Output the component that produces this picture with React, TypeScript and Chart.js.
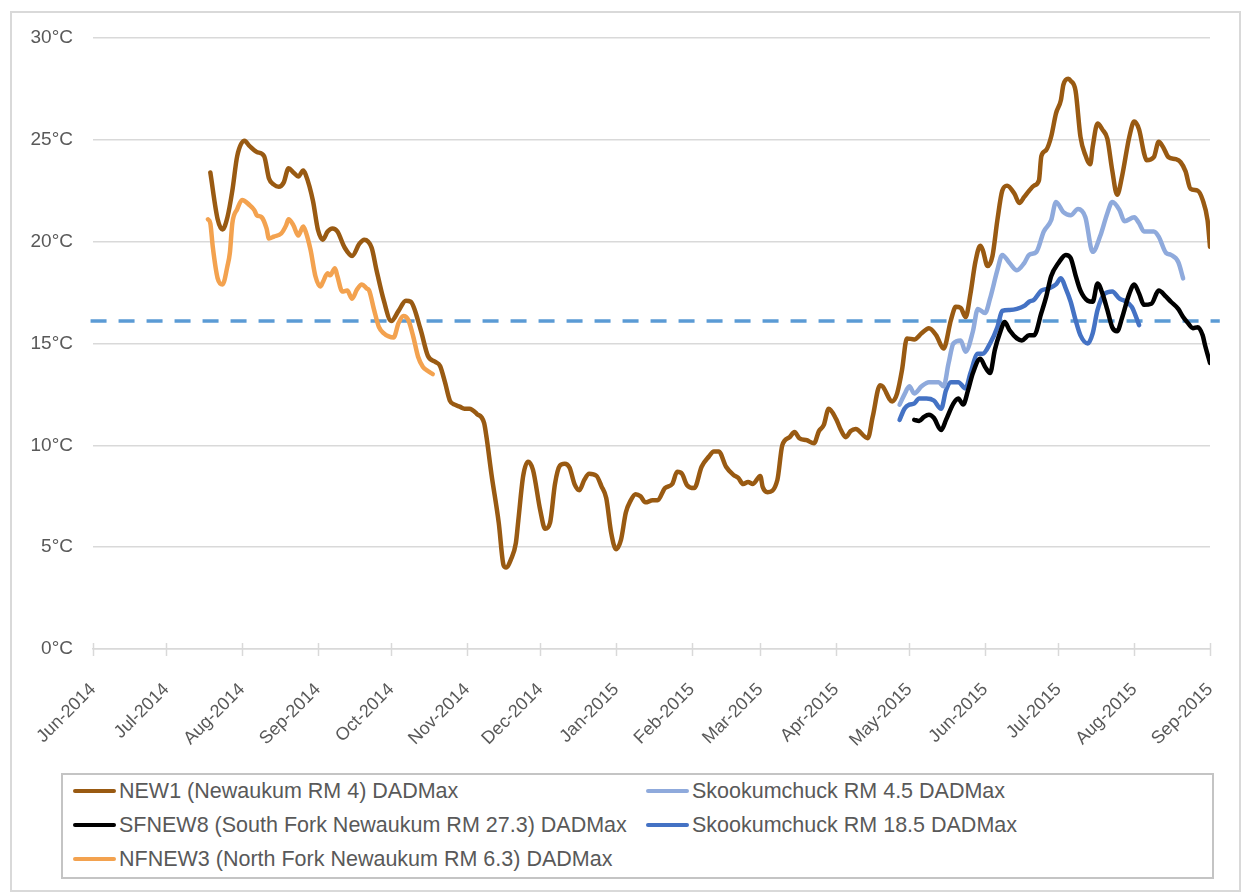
import React, { useEffect, useRef } from 'react';
import { Chart, registerables } from 'chart.js';

Chart.register(...registerables);

// x values are days counted from 1 Jun 2014
const MONTH_NAMES = ['Jan', 'Feb', 'Mar', 'Apr', 'May', 'Jun', 'Jul', 'Aug', 'Sep', 'Oct', 'Nov', 'Dec'];
const FIRST_MONTH = 5; // June
const FIRST_YEAR = 2014;
const MONTH_COUNT = 16; // Jun-2014 .. Sep-2015

const yTickValues = [0, 5, 10, 15, 20, 25, 30];

const new1Days = [48, 51, 53, 55, 57, 59, 62, 64, 67, 70, 72, 74, 76, 78, 80, 82, 84, 86, 87, 90, 92, 94, 96, 98, 100, 103, 106, 109, 111, 114, 116, 119, 122, 125, 128, 130, 134, 137, 140, 142, 144, 146, 148, 150, 152, 154, 157, 160, 161, 163, 166, 168, 169, 171, 173, 174, 176, 178, 180, 183, 185, 187, 189, 191, 193, 195, 197, 199, 201, 203, 206, 208, 210, 212, 214, 216, 218, 220, 222, 224, 226, 229, 231, 234, 237, 239, 241, 243, 246, 249, 252, 254, 256, 259, 262, 264, 266, 268, 270, 273, 274, 276, 280, 282, 285, 287, 289, 292, 295, 297, 299, 301, 304, 306, 308, 310, 312, 317, 319, 322, 323, 327, 329, 331, 333, 336, 339, 342, 345, 348, 351, 353, 355, 357, 359, 361, 363, 364, 366, 368, 370, 372, 374, 377, 379, 381, 383, 385, 387, 388, 390, 392, 394, 396, 397, 399, 400, 402, 404, 406, 408, 409, 411, 413, 415, 417, 419, 421, 424, 426, 428, 430, 431, 434, 436, 438, 440, 443, 445, 447, 449, 452, 454, 456, 457];
const new1Temps = [23.4, 21.1, 20.6, 21.2, 22.5, 24.2, 24.95, 24.7, 24.4, 24.2, 23.1, 22.8, 22.7, 22.9, 23.6, 23.4, 23.2, 23.5, 23.3, 22.0, 20.6, 20.1, 20.5, 20.65, 20.5, 19.7, 19.3, 19.9, 20.1, 19.7, 18.6, 17.1, 16.1, 16.6, 17.1, 17.05, 15.7, 14.4, 14.1, 13.9, 13.1, 12.2, 12.0, 11.9, 11.8, 11.8, 11.55, 11.1, 10.4, 8.6, 6.2, 4.1, 4.0, 4.4, 5.2, 6.3, 8.5, 9.2, 8.8, 6.8, 5.9, 6.2, 8.1, 9.0, 9.1, 8.9, 8.1, 7.8, 8.3, 8.6, 8.5, 8.0, 7.4, 5.7, 4.9, 5.35, 6.7, 7.3, 7.6, 7.5, 7.2, 7.3, 7.3, 7.9, 8.1, 8.7, 8.6, 8.05, 7.9, 8.95, 9.45, 9.7, 9.7, 8.95, 8.55, 8.4, 8.1, 8.2, 8.1, 8.5, 7.95, 7.7, 8.3, 10.0, 10.4, 10.65, 10.35, 10.25, 10.1, 10.7, 11.0, 11.8, 11.3, 10.75, 10.4, 10.7, 10.8, 10.35, 11.4, 12.95, 12.9, 12.15, 12.55, 13.7, 15.25, 15.2, 15.5, 15.75, 15.4, 14.75, 16.15, 16.8, 16.75, 16.3, 17.45, 19.0, 19.8, 19.6, 18.8, 19.3, 21.05, 22.5, 22.75, 22.35, 21.9, 22.2, 22.5, 22.75, 23.0, 24.2, 24.5, 25.15, 26.3, 26.95, 27.7, 28.0, 27.9, 27.4, 25.15, 24.25, 23.8, 24.65, 25.8, 25.5, 25.05, 23.5, 22.3, 23.2, 25.15, 25.9, 25.5, 24.35, 24.0, 24.15, 24.9, 24.6, 24.15, 24.05, 23.9, 23.45, 22.6, 22.5, 22.05, 21.05, 19.75];

const skook45Days = [330, 332, 334, 336, 339, 342, 346, 348, 350, 352, 355, 357, 360, 362, 365, 367, 370, 372, 375, 378, 381, 383, 386, 389, 392, 394, 397, 400, 403, 406, 409, 412, 415, 417, 420, 422, 426, 428, 430, 434, 436, 439, 441, 444, 446];
const skook45Temps = [12.0, 12.5, 12.9, 12.55, 12.9, 13.1, 13.1, 12.9, 14.0, 15.0, 15.15, 14.6, 15.6, 16.7, 16.5, 17.2, 18.6, 19.35, 18.95, 18.6, 18.95, 19.35, 19.5, 20.5, 21.05, 21.95, 21.45, 21.3, 21.6, 21.2, 19.5, 20.25, 21.4, 21.95, 21.55, 21.0, 21.2, 20.9, 20.5, 20.5, 20.25, 19.45, 19.35, 19.0, 18.2];

const sfnew8Days = [336, 338, 340, 342, 344, 347, 349, 352, 354, 356, 358, 360, 363, 365, 367, 369, 371, 373, 375, 378, 380, 383, 385, 388, 390, 392, 395, 398, 400, 402, 404, 407, 409, 411, 413, 415, 417, 419, 421, 424, 426, 428, 430, 433, 436, 439, 441, 444, 446, 448, 450, 452, 454, 455, 457];
const sfnew8Temps = [11.25, 11.2, 11.4, 11.5, 11.35, 10.75, 11.25, 12.05, 12.3, 12.0, 12.7, 13.55, 14.25, 13.85, 13.55, 14.7, 15.5, 16.05, 15.65, 15.25, 15.15, 15.4, 15.4, 16.5, 17.3, 18.3, 18.95, 19.35, 19.2, 18.35, 17.6, 17.1, 17.05, 17.95, 17.45, 16.65, 15.8, 15.6, 16.25, 17.45, 17.9, 17.45, 16.9, 16.95, 17.6, 17.3, 17.05, 16.7, 16.3, 16.0, 15.75, 15.8, 15.4, 14.9, 14.05];

const skook185Days = [330, 332, 334, 336, 338, 341, 344, 347, 349, 351, 354, 357, 359, 362, 364, 367, 370, 372, 375, 378, 381, 383, 385, 388, 391, 394, 396, 398, 400, 402, 404, 407, 409, 411, 414, 417, 420, 422, 425, 428];
const skook185Temps = [11.25, 11.8, 12.0, 12.05, 12.3, 12.3, 12.2, 11.8, 12.7, 13.1, 13.1, 12.8, 13.55, 14.5, 14.5, 15.0, 15.8, 16.6, 16.65, 16.7, 16.85, 17.05, 17.15, 17.6, 17.7, 17.9, 18.2, 17.7, 17.05, 16.15, 15.4, 15.0, 15.5, 16.65, 17.45, 17.55, 17.2, 17.1, 16.8, 15.9];

const nfnew3Days = [47, 48, 49, 51, 53, 55, 56, 57, 59, 61, 64, 66, 67, 69, 71, 72, 74, 77, 79, 80, 82, 84, 86, 87, 89, 91, 93, 94, 96, 97, 99, 100, 102, 104, 106, 108, 110, 112, 113, 115, 117, 119, 121, 123, 125, 127, 129, 131, 133, 135, 137, 139];
const nfnew3Temps = [21.1, 20.9, 19.75, 18.2, 17.9, 18.8, 19.45, 20.9, 21.6, 22.05, 21.8, 21.55, 21.3, 21.2, 20.65, 20.15, 20.25, 20.4, 20.8, 21.1, 20.8, 20.3, 20.75, 20.5, 19.6, 18.3, 17.8, 18.0, 18.45, 18.35, 18.7, 18.3, 17.55, 17.6, 17.2, 17.65, 17.9, 17.7, 17.6, 16.65, 15.8, 15.5, 15.35, 15.3, 16.0, 16.35, 16.15, 15.35, 14.35, 13.85, 13.65, 13.5];

const thresholdDays = [-1, 461];
const thresholdTemps = [16.1, 16.1];

const seriesLabels = [
  'NEW1 (Newaukum RM 4) DADMax',
  'Skookumchuck RM 4.5 DADMax',
  'SFNEW8 (South Fork Newaukum RM 27.3) DADMax',
  'Skookumchuck RM 18.5 DADMax',
  'NFNEW3 (North Fork Newaukum RM 6.3) DADMax',
];
const seriesColors = ['#995A12', '#8FAADC', '#000000', '#4472C4', '#F3A24F'];
const thresholdColor = '#5B9BD5';

const TEXT = '#595959';
const FONT = '"Liberation Sans", Arial, sans-serif';

const msDay = 86400000;
const monthTickDays: number[] = [];
const monthTickLabels: string[] = [];
for (let i = 0; i < MONTH_COUNT; i++) {
  const m = FIRST_MONTH + i;
  monthTickDays.push(Math.round((Date.UTC(FIRST_YEAR, m, 1) - Date.UTC(FIRST_YEAR, FIRST_MONTH, 1)) / msDay));
  monthTickLabels.push(MONTH_NAMES[m % 12] + '-' + (FIRST_YEAR + Math.floor(m / 12)));
}

const toPoints = (xs: number[], ys: number[]) => xs.map((x, i) => ({ x, y: ys[i] }));

const crossTicks = {
  id: 'crossTicks',
  beforeDatasetsDraw(chart: any) {
    const { ctx, chartArea, scales } = chart;
    const xs = scales.x;
    ctx.save();
    ctx.strokeStyle = '#d9d9d9';
    ctx.lineWidth = 1.5;
    monthTickDays.forEach((d) => {
      const px = Math.round(xs.getPixelForValue(d)) + 0.5;
      ctx.beginPath();
      ctx.moveTo(px, chartArea.bottom - 6);
      ctx.lineTo(px, chartArea.bottom + 7);
      ctx.stroke();
    });
    ctx.restore();
  },
};

export default function App() {
  const canvasRef = useRef<HTMLCanvasElement | null>(null);

  useEffect(() => {
    if (!canvasRef.current) return;
    const seriesData = [
      toPoints(new1Days, new1Temps),
      toPoints(skook45Days, skook45Temps),
      toPoints(sfnew8Days, sfnew8Temps),
      toPoints(skook185Days, skook185Temps),
      toPoints(nfnew3Days, nfnew3Temps),
    ];
    const datasets: any[] = seriesData.map((data, i) => ({
      label: seriesLabels[i],
      data,
      borderColor: seriesColors[i],
      backgroundColor: seriesColors[i],
      borderWidth: 4.5,
      pointRadius: 0,
      fill: false,
      cubicInterpolationMode: 'monotone',
      borderJoinStyle: 'round',
      borderCapStyle: 'round',
    }));
    datasets.push({
      label: 'threshold',
      data: toPoints(thresholdDays, thresholdTemps),
      borderColor: thresholdColor,
      borderWidth: 3.5,
      borderDash: [16, 12],
      pointRadius: 0,
      fill: false,
      clip: false,
    });

    const chart = new Chart(canvasRef.current, {
      type: 'line',
      data: { datasets },
      options: {
        animation: false,
        responsive: false,
        maintainAspectRatio: false,
        parsing: false as any,
        layout: { padding: { top: 18, left: 0, right: 50, bottom: 11 } },
        plugins: {
          legend: { display: false },
          tooltip: { enabled: false },
        },
        scales: {
          x: {
            type: 'linear',
            min: monthTickDays[0],
            max: monthTickDays[monthTickDays.length - 1],
            afterBuildTicks: (axis: any) => {
              axis.ticks = monthTickDays.map((v) => ({ value: v }));
            },
            afterFit: (axis: any) => {
              axis.height = 100;
            },
            grid: { display: false, drawTicks: false },
            border: { display: true, color: '#d9d9d9', width: 1.5 },
            ticks: {
              autoSkip: false,
              minRotation: 45,
              maxRotation: 45,
              padding: 30,
              color: TEXT,
              font: { family: FONT, size: 18 },
              callback: (value: any) => {
                const idx = monthTickDays.indexOf(Number(value));
                return idx >= 0 ? monthTickLabels[idx] : '';
              },
            },
          },
          y: {
            type: 'linear',
            min: yTickValues[0],
            max: yTickValues[yTickValues.length - 1],
            afterBuildTicks: (axis: any) => {
              axis.ticks = yTickValues.map((v) => ({ value: v }));
            },
            afterFit: (axis: any) => {
              axis.width = 90;
            },
            grid: {
              color: '#d9d9d9',
              lineWidth: 1.5,
              drawTicks: true,
              tickLength: 20,
              tickColor: 'rgba(0,0,0,0)',
            },
            border: { display: false },
            ticks: {
              padding: 0,
              color: TEXT,
              font: { family: FONT, size: 19 },
              callback: (value: any) => value + '°C',
            },
          },
        },
      },
      plugins: [crossTicks],
    });
    return () => chart.destroy();
  }, []);

  const legendRows = [
    [0, 1],
    [2, 3],
    [4],
  ];
  const colLeft = [73, 646];
  const rowCenter = [791, 825, 859];

  return (
    <div style={{ position: 'absolute', left: 0, top: 0, width: 1248, height: 893, background: '#ffffff', overflow: 'hidden' }}>
      <div
        style={{
          position: 'absolute',
          left: 10,
          top: 11,
          width: 1231,
          height: 881,
          border: '2px solid #d9d9d9',
          boxSizing: 'border-box',
        }}
      />
      <canvas
        ref={canvasRef}
        width={1257}
        height={740}
        style={{ position: 'absolute', left: 3, top: 20, width: 1257, height: 740 }}
      />
      <div
        style={{
          position: 'absolute',
          left: 61,
          top: 773,
          width: 1153,
          height: 106,
          border: '2px solid #c4c4c4',
          boxSizing: 'border-box',
        }}
      />
      {legendRows.map((row, r) =>
        row.map((si, c) => (
          <div
            key={si}
            style={{
              position: 'absolute',
              left: colLeft[c],
              top: rowCenter[r] - 14,
              height: 28,
              display: 'flex',
              alignItems: 'center',
              whiteSpace: 'nowrap',
              fontFamily: FONT,
              fontSize: 21.5,
              color: TEXT,
              lineHeight: '28px',
            }}
          >
            <span
              style={{
                display: 'inline-block',
                width: 43,
                height: 4,
                borderRadius: 2,
                background: seriesColors[si],
                marginRight: 3,
              }}
            />
            <span>{seriesLabels[si]}</span>
          </div>
        ))
      )}
    </div>
  );
}
